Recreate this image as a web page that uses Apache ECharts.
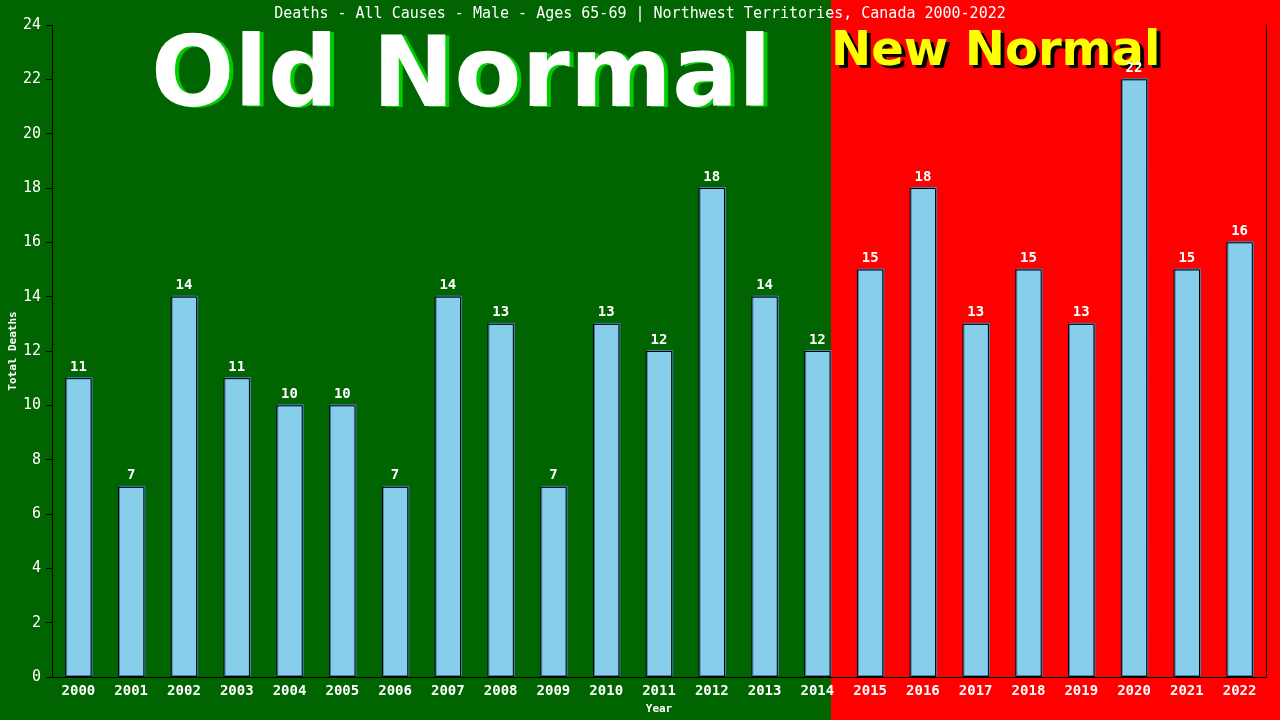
<!DOCTYPE html>
<html>
<head>
<meta charset="utf-8">
<script src="https://cdn.jsdelivr.net/npm/echarts@6/dist/echarts.min.js"></script>
<style>
  html, body { margin: 0; padding: 0; background: #006400; }
  #chart { width: 1280px; height: 720px; }
</style>
</head>
<body>
<div id="chart"></div>
<script>
// chart data
const years = ['2000','2001','2002','2003','2004','2005','2006','2007','2008','2009','2010','2011',
               '2012','2013','2014','2015','2016','2017','2018','2019','2020','2021','2022']
const deaths = [11,7,14,11,10,10,7,14,13,7,13,12,18,14,12,15,18,13,15,13,22,15,16]
const titleText = 'Deaths - All Causes - Male - Ages 65-69 | Northwest Territories, Canada 2000-2022'
const yName = 'Total Deaths'
const lastOldYear = '2014'

const mono = '"DejaVu Sans Mono", "Liberation Mono", monospace'
const sans = '"DejaVu Sans", sans-serif'

const dom = document.getElementById('chart')
const myChart = echarts.init(dom, null, { renderer: 'canvas' })

const option = {
    backgroundColor: '#006400',
    animation: false,
    title: {
        text: titleText,
        left: 'center',
        top: 2,
        textStyle: { color: '#fff', fontFamily: mono, fontSize: 15, fontWeight: 'normal' }
    },
    grid: { left: 52, right: 14, top: 25, bottom: 43, containLabel: false, outerBoundsMode: 'none' },
    xAxis: {
        type: 'category',
        data: years,
        name: 'Year',
        nameLocation: 'middle',
        nameGap: 27,
        nameTextStyle: { color: '#fff', fontFamily: mono, fontSize: 11, fontWeight: 'bold' },
        axisLine: { lineStyle: { color: '#000', width: 1 } },
        axisTick: { show: false },
        axisLabel: { color: '#fff', fontFamily: mono, fontSize: 14, fontWeight: 'bold', margin: 7 }
    },
    yAxis: [{
        type: 'value',
        min: 0,
        max: 24,
        interval: 2,
        splitLine: { show: false },
        axisLine: { show: true, lineStyle: { color: '#000', width: 1 } },
        axisTick: { show: true, length: 6, lineStyle: { color: '#000' } },
        axisLabel: { color: '#fff', fontFamily: mono, fontSize: 15, margin: 11 }
    }, {
        type: 'value',
        min: 0,
        max: 24,
        interval: 2,
        position: 'right',
        splitLine: { show: false },
        axisLine: { show: true, lineStyle: { color: '#000', width: 1 } },
        axisTick: { show: false },
        axisLabel: { show: false }
    }],
    series: [{
        type: 'bar',
        data: deaths,
        barWidth: '50%',
        z: 5,
        itemStyle: {
            color: '#87ceeb',
            borderColor: '#000',
            borderWidth: 1,
            shadowColor: '#4682b4',
            shadowBlur: 0,
            shadowOffsetX: 1,
            shadowOffsetY: -1
        },
        label: {
            show: true,
            position: 'top',
            distance: 4,
            color: '#fff',
            fontFamily: mono,
            fontSize: 14,
            fontWeight: 'bold'
        }
    }]
}

myChart.setOption(option)

// red "new normal" background starts at the right edge of the last old bar
const idx = years.indexOf(lastOldYear)
const cx = myChart.convertToPixel({ xAxisIndex: 0 }, idx)
const band = myChart.convertToPixel({ xAxisIndex: 0 }, idx + 1) - cx
const edge = Math.round(cx + band * 0.25)
const midY = Math.round(myChart.convertToPixel({ yAxisIndex: 0 }, 12))

myChart.setOption({
    graphic: [
        { type: 'rect', z: -10, silent: true,
          shape: { x: edge, y: 0, width: 1280 - edge, height: 720 },
          style: { fill: '#ff0000' } },
        { type: 'text', z: 3, silent: true, x: 13, y: midY, rotation: Math.PI / 2,
          style: { text: yName, fill: '#fff', font: 'bold 11px ' + mono, align: 'center', verticalAlign: 'middle' } },
        { type: 'text', z: 1, silent: true, x: 155, y: 131,
          style: { text: 'Old Normal', fill: '#00cc00', font: 'bold 98px ' + sans, verticalAlign: 'bottom' } },
        { type: 'text', z: 2, silent: true, x: 151, y: 130,
          style: { text: 'Old Normal', fill: '#ffffff', font: 'bold 98px ' + sans, verticalAlign: 'bottom' } },
        { type: 'text', z: 1, silent: true, x: edge + 4, y: 80,
          style: { text: 'New Normal', fill: '#000000', font: 'bold 48px ' + sans, verticalAlign: 'bottom' } },
        { type: 'text', z: 2, silent: true, x: edge, y: 77,
          style: { text: 'New Normal', fill: '#ffff00', font: 'bold 48px ' + sans, verticalAlign: 'bottom' } }
    ]
})
</script>
</body>
</html>
